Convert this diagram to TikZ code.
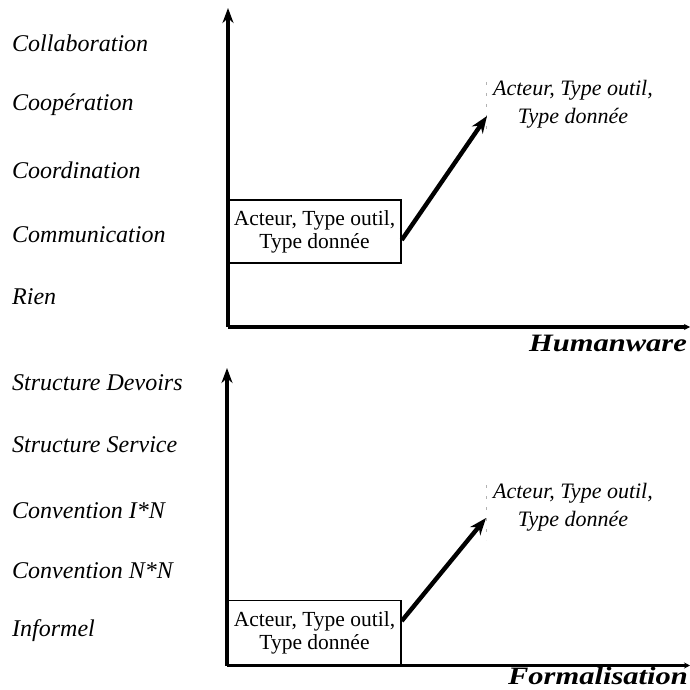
\documentclass[tikz,border=0pt]{standalone}
\usepackage{fontspec}
\setmainfont{Liberation Serif}
\newfontfamily\axisfont[FakeStretch=1.22]{Liberation Serif}
\usetikzlibrary{arrows.meta}
\begin{document}
\begin{tikzpicture}[x=1pt,y=-1pt,
  lvl/.style={anchor=west,inner sep=0pt,font=\fontsize{24}{26}\selectfont\itshape},
  axis/.style={line width=3.2pt},
  axlabel/.style={anchor=base east,inner sep=0pt,font=\axisfont\fontsize{25}{28}\selectfont\bfseries\itshape},
  infobox/.style={draw,line width=1.4pt,rectangle,inner sep=0pt,minimum width=173pt,minimum height=63pt,align=center,font=\fontsize{21.5}{23}\selectfont},
  infotxt/.style={inner sep=0pt,align=center,font=\fontsize{22}{28}\selectfont\itshape},
  trend/.style={line width=4.4pt,-{Stealth[length=17pt,width=13pt]}},
  ghost/.style={gray!60,line width=0.6pt,dash pattern=on 3pt off 8pt}
]
\useasboundingbox (0,0) rectangle (690,690);

% ---------- top chart ----------
\coordinate (o1) at (228,327);
\coordinate (ytop1) at (228,8);
\coordinate (xend1) at (690,327);
\draw[axis,-{Stealth[length=15pt,width=11pt]}] (o1) -- (ytop1);
\draw[axis,-{Stealth[length=6pt,width=6pt]}] (o1) -- (xend1);
\node[axlabel] (hw) at (687,351) {Humanware};

\node[lvl] (l1a) at (12,43) {Collaboration};
\node[lvl] (l1b) at (12,105) {Coopération};
\node[lvl] (l1c) at (12,170) {Coordination};
\node[lvl] (l1d) at (12,235) {Communication};
\node[lvl] (l1e) at (12,297) {Rien};

\node[infobox] (b1) at (314.5,231.5) {Acteur, Type outil,\\Type donnée};
\node[infotxt] (t1) at (573,104) {Acteur, Type outil,\\Type donnée};
\coordinate (g1a) at (486,82);
\coordinate (g1b) at (486,136);
\draw[ghost] (g1a) -- (g1b);
\coordinate (a1) at (487,116);
\draw[trend] (b1.east |- 0,240) -- (a1);

% ---------- bottom chart ----------
\coordinate (o2) at (227,665.5);
\coordinate (ytop2) at (227,368);
\coordinate (xend2) at (690,665.5);
\draw[axis,-{Stealth[length=15pt,width=11pt]}] (o2) -- (ytop2);
\draw[axis,-{Stealth[length=6pt,width=6pt]}] (o2) -- (xend2);
\node[axlabel] (fo) at (688,684) {Formalisation};

\node[lvl] (l2a) at (12,383) {Structure Devoirs};
\node[lvl] (l2b) at (12,445) {Structure Service};
\node[lvl] (l2c) at (12,511) {Convention I*N};
\node[lvl] (l2d) at (12,571) {Convention N*N};
\node[lvl] (l2e) at (12,631) {Informel};

\node[infobox,minimum height=65pt] (b2) at (314.5,633) {Acteur, Type outil,\\Type donnée};
\node[infotxt] (t2) at (573,507) {Acteur, Type outil,\\Type donnée};
\coordinate (g2a) at (486,485);
\coordinate (g2b) at (486,540);
\draw[ghost] (g2a) -- (g2b);
\coordinate (a2) at (486,518);
\draw[trend] (b2.east |- 0,621) -- (a2);
\end{tikzpicture}
\end{document}
